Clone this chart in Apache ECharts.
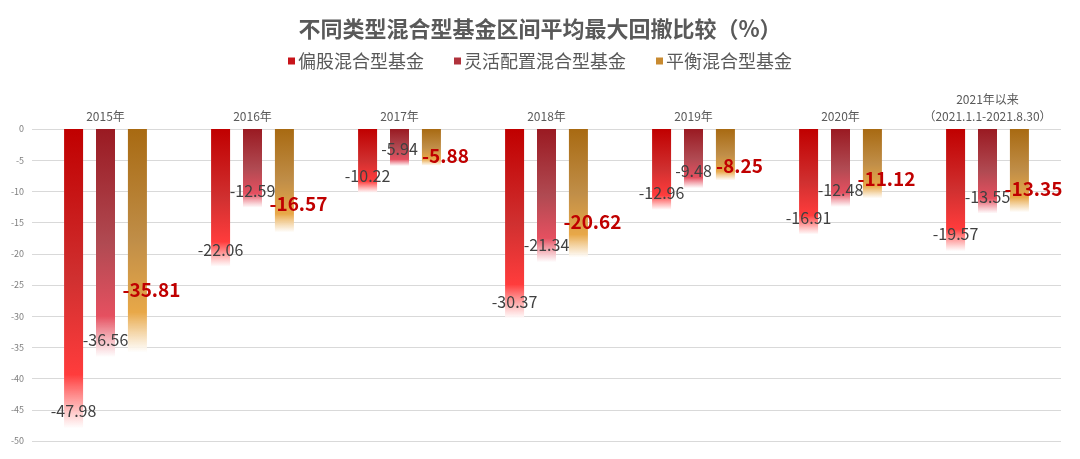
<!DOCTYPE html>
<html>
<head>
<meta charset="utf-8">
<script src="https://cdn.jsdelivr.net/npm/echarts@6/dist/echarts.min.js"></script>
<style>html,body{margin:0;padding:0;background:#fff;}#c{width:1080px;height:459px;}</style>
</head>
<body>
<div id="c"></div>
<script>
var categories = ['2015年','2016年','2017年','2018年','2019年','2020年','2021年以来\n（2021.1.1-2021.8.30）'];
var seriesNames = ['偏股混合型基金','灵活配置混合型基金','平衡混合型基金'];
var equityHybrid = [-47.98,-22.06,-10.22,-30.37,-12.96,-16.91,-19.57];
var flexibleHybrid = [-36.56,-12.59,-5.94,-21.34,-9.48,-12.48,-13.55];
var balancedHybrid = [-35.81,-16.57,-5.88,-20.62,-8.25,-11.12,-13.35];
var yTicks = {min:-50, max:0, interval:5};

var FONT = '"Noto Sans CJK SC","Noto Sans",sans-serif';
function grad(c0, c1, c2) {
  return new echarts.graphic.LinearGradient(0,0,0,1,[
    {offset:0,color:c0},{offset:0.5,color:c1},{offset:0.82,color:c2},{offset:1,color:'rgba(255,255,255,0.9)'}
  ]);
}
var colors = [
  grad('#C00000','#D03030','#FF3C3C'),
  grad('#9A1A22','#B04A52','#E55060'),
  grad('#A86A12','#C08E48','#E8A848')
];
var legendColors = ['#C8141A','#B0323C','#C88A30'];

var chart = echarts.init(document.getElementById('c'));
var grayLabel = {show:true, position:'insideBottom', distance:9, color:'#404040', fontSize:16, fontFamily:FONT};
chart.setOption({
  animation:false,
  title:{text:'不同类型混合型基金区间平均最大回撤比较（%）', left:'center', top:13,
    textStyle:{fontSize:22, fontWeight:'bold', color:'#595959', fontFamily:FONT}},
  legend:{top:47, left:'center', itemWidth:7, itemHeight:7, itemGap:30, icon:'rect',
    textStyle:{fontSize:18, color:'#595959', fontFamily:FONT, padding:[0,0,0,-2]},
    data:seriesNames.map(function(n,i){return {name:n, itemStyle:{color:legendColors[i]}};})},
  grid:{left:32, right:19, top:129, bottom:18},
  xAxis:{type:'category', position:'top', data:categories,
    axisLine:{show:false}, axisTick:{show:false},
    axisLabel:{color:'#595959', fontSize:12, fontFamily:FONT, margin:4, lineHeight:17, interval:0}},
  yAxis:{type:'value', min:yTicks.min, max:yTicks.max, interval:yTicks.interval,
    axisLabel:{color:'#7F7F7F', fontSize:9, fontFamily:FONT, margin:8},
    splitLine:{lineStyle:{color:'#D9D9D9', width:1.2}}},
  series:[
    {name:seriesNames[0], type:'bar', data:equityHybrid, barWidth:19, barGap:'68%',
      itemStyle:{color:colors[0]}, label:grayLabel},
    {name:seriesNames[1], type:'bar', data:flexibleHybrid, barWidth:19,
      itemStyle:{color:colors[1]}, label:grayLabel},
    {name:seriesNames[2], type:'bar', data:balancedHybrid, barWidth:19,
      itemStyle:{color:colors[2]},
      label:{show:true, position:['50%','72%'], offset:[14,0], align:'center', verticalAlign:'middle',
        color:'#C00000', fontSize:19, fontWeight:'bold', fontFamily:FONT}}
  ]
});
</script>
</body>
</html>
